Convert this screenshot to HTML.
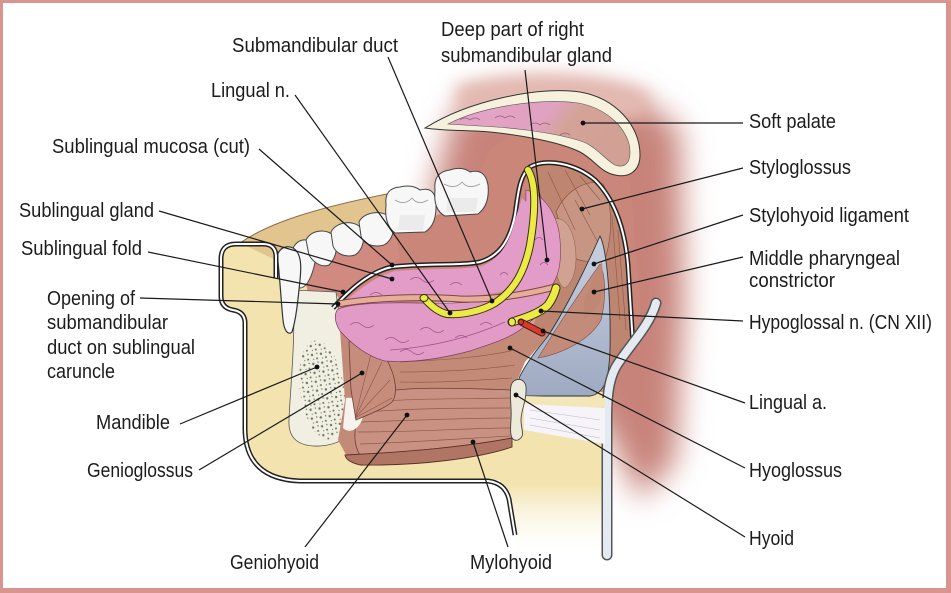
<!DOCTYPE html>
<html><head><meta charset="utf-8">
<style>
html,body{margin:0;padding:0;background:#fff;}
svg{display:block;}
text{font-family:"Liberation Sans",Arial,sans-serif;font-size:20px;fill:#1c1c1c;}
</style></head><body>
<svg width="951" height="593" viewBox="0 0 951 593" xmlns="http://www.w3.org/2000/svg">
<defs>
<filter id="b14" x="-40%" y="-40%" width="180%" height="180%"><feGaussianBlur stdDeviation="15"/></filter>
<filter id="b8" x="-40%" y="-40%" width="180%" height="180%"><feGaussianBlur stdDeviation="8"/></filter>
<pattern id="spk" width="9" height="9" patternUnits="userSpaceOnUse">
<circle cx="2" cy="3" r="1.2" fill="#56604a"/><circle cx="6.5" cy="7" r="1" fill="#56604a"/>
<circle cx="7" cy="2" r="0.7" fill="#56604a"/><circle cx="3" cy="7.5" r="0.6" fill="#56604a"/>
</pattern>
<linearGradient id="palg" x1="0" y1="0" x2="1" y2="0.3">
<stop offset="0" stop-color="#e4a4c8"/><stop offset="0.55" stop-color="#e0a2c0"/><stop offset="0.7" stop-color="#d4a398"/><stop offset="1" stop-color="#d2a095"/>
</linearGradient>
<linearGradient id="yfade" x1="0" y1="0" x2="0" y2="1">
<stop offset="0" stop-color="#f3e3ae"/><stop offset="0.55" stop-color="#f3e3ae"/><stop offset="1" stop-color="#fff" stop-opacity="0"/>
</linearGradient>
<linearGradient id="blueg" x1="0" y1="0" x2="0" y2="1">
<stop offset="0" stop-color="#c9d1e0"/><stop offset="1" stop-color="#9eaac2"/>
</linearGradient>
</defs>

<rect x="0" y="0" width="951" height="593" fill="#fff"/>

<!-- soft red background -->
<path d="M455,112 C485,88 570,78 640,98 L680,130 L684,300 L676,460 L640,500 L612,440 L540,340 L440,265 L430,200 Z" fill="#c7837a" filter="url(#b14)"/>
<path d="M455,85 C520,70 600,75 650,95 L640,120 L460,120 Z" fill="#e3b9b1" filter="url(#b8)"/>
<!-- crisp oral flesh -->
<path d="M318,262 L395,232 L440,214 L470,195 L490,150 L510,135 L600,140 L630,180 L640,300 L640,350 L600,350 L520,300 L338,305 Z" fill="#c98679"/>

<!-- yellow floor right part -->
<path d="M500,392 L608,392 L608,560 L516,560 L510,500 L500,482 Z" fill="url(#yfade)"/>

<!-- mandible fill -->
<path d="M262,240 Q221,240 221,262 L221,296 Q221,308 233,309 Q246,311 246,322 L246,430 Q247,478 300,480 L488,480 L540,480 L540,400 L420,330 L340,300 L300,240 Z" fill="#f3e3ae"/>
<!-- tan ridge -->
<path d="M240,243 C270,222 320,207 392,193 L402,214 L330,238 L280,262 Z" fill="#e2c48e"/>
<path d="M240,243 C270,222 320,207 392,193" fill="none" stroke="#8a6d45" stroke-width="1"/>
<!-- gum -->
<path d="M300,262 L340,250 L395,232 L400,258 L350,290 L310,300 Z" fill="#d08a80"/>

<!-- teeth -->
<g fill="#f7f7f7" stroke="#454545" stroke-width="1">
<path d="M292,252 C294,240 307,236 313,244 C318,252 315,266 311,276 C307,286 301,291 296,286 Z"/>
<path d="M306,240 C311,230 326,228 334,236 C339,246 336,258 329,265 C321,268 313,262 309,255 Z"/>
<path d="M331,232 C336,222 353,219 361,228 C366,238 363,250 355,255 C346,258 336,254 333,246 Z"/>
<path d="M359,222 C363,212 383,209 391,218 C396,228 393,240 384,245 C373,248 363,244 361,236 Z"/>
<path d="M386,205 Q384,188 400,187 Q412,184 420,190 Q435,186 436,203 Q437,225 425,232 L395,233 Q384,225 386,205 Z"/>
<path d="M435,190 Q433,172 450,170 Q462,166 470,172 Q485,168 488,185 Q490,205 478,214 L445,216 Q433,210 435,190 Z"/>
</g>
<g fill="none" stroke="#9a9a9a" stroke-width="0.8">
<path d="M395,200 Q405,206 412,198 Q418,206 428,200"/>
<path d="M444,184 Q455,190 462,182 Q468,190 480,184"/>
</g>
<g fill="#e6e6e6" opacity="0.7"><path d="M400,215 L425,215 L423,230 L398,230 Z"/><path d="M448,198 L478,198 L476,212 L446,212 Z"/></g>

<!-- bone of mandible (cross-section) -->
<path d="M293,290 L336,292 C340,330 352,370 358,405 C362,430 345,444 320,446 C298,447 288,438 289,420 C290,390 296,340 293,290 Z" fill="#f1efe2" stroke="#555" stroke-width="0.8"/>
<ellipse cx="322" cy="390" rx="22" ry="50" transform="rotate(-8 322 390)" fill="url(#spk)" opacity="0.85"/>
<!-- incisor front -->
<path d="M278,262 C275,250 285,244 293,248 C300,252 302,262 300,280 C298,300 296,320 292,332 C288,336 284,330 283,320 C281,300 280,280 278,262 Z" fill="#f7f7f7" stroke="#333" stroke-width="1.2"/>

<!-- mandible outline double -->
<path d="M276,278 L276,257 Q276,244 263,244 L236,244 Q221,244 221,259 L221,296 Q221,308 233,310 Q245,312 245,323 L245,430 Q246,479 300,481 L488,481 Q505,483 509,499 L515,535" fill="none" stroke="#222" stroke-width="5"/>
<path d="M276,278 L276,257 Q276,244 263,244 L236,244 Q221,244 221,259 L221,296 Q221,308 233,310 Q245,312 245,323 L245,430 Q246,479 300,481 L488,481 Q505,483 509,499 L515,535" fill="none" stroke="#fff" stroke-width="2"/>

<!-- soft palate -->
<path d="M425,128 C470,100 540,86 580,92 C615,98 640,125 640,155 C640,172 628,178 615,175 C600,172 595,160 580,152 C560,142 520,135 490,132 C465,130 445,131 425,128 Z" fill="#f6f1dc" stroke="#333" stroke-width="1"/>
<path d="M448,124 C482,106 542,98 578,103 C607,108 630,130 630,152 C630,165 623,168 615,165 C606,160 599,150 586,143 C566,135 526,129 496,127 Z" fill="url(#palg)" stroke="#555" stroke-width="0.6"/>
<g fill="none" stroke="#9c5a80" stroke-width="0.7"><path d="M460,120 q5,-4 10,0 q5,-4 10,0"/><path d="M495,118 q5,-4 10,0 q5,-4 10,0"/><path d="M530,125 q5,-4 10,0 q5,-4 10,0"/><path d="M560,135 q5,-4 10,0"/></g>

<!-- right muscles region -->
<path d="M524,172 C540,159 575,162 595,180 C615,200 625,230 628,265 L632,345 L610,365 L560,345 L530,335 L545,292 L556,240 Z" fill="#be8571"/>
<path d="M556,212 C566,190 588,178 603,184 C612,200 613,232 606,256 C595,263 580,263 572,256 Z" fill="#c99583" stroke="#7a4a3c" stroke-width="0.6"/>
<path d="M552,220 C562,215 572,225 575,245 C578,265 574,282 565,288 C556,285 552,260 552,220 Z" fill="#cfa292" stroke="#8a5a4a" stroke-width="0.5"/>
<g stroke="#8e5646" stroke-width="0.6" fill="none">
<path d="M535,180 L560,250"/><path d="M548,172 L575,230"/><path d="M565,170 L590,215"/><path d="M580,176 L600,200"/><path d="M575,200 L602,250"/><path d="M612,215 L620,320"/><path d="M618,230 L626,330"/>
</g>

<!-- blue region -->
<path d="M600,236 C607,250 611,300 610,350 C609,380 604,394 590,396 L528,396 C518,396 516,386 520,376 C528,360 540,346 548,336 C565,310 585,270 600,236 Z" fill="url(#blueg)" stroke="#333" stroke-width="0.9"/>
<path d="M538,358 C555,330 580,292 600,264 C606,276 606,300 601,320 C590,340 562,354 538,358 Z" fill="#c28b7a" stroke="#7a4a3c" stroke-width="0.6"/>
<path d="M584,300 C590,285 596,272 602,262 L604,290 C600,305 592,315 584,318 Z" fill="#c08872"/>

<!-- mucosa cut line -->
<path d="M333,308 C348,292 368,272 392,267 C425,263 460,266 480,262 C500,256 510,240 515,215 C518,195 519,176 530,167 C545,158 575,163 595,180 C615,200 625,230 628,265 L633,345" fill="none" stroke="#222" stroke-width="5"/>
<path d="M333,308 C348,292 368,272 392,267 C425,263 460,266 480,262 C500,256 510,240 515,215 C518,195 519,176 530,167 C545,158 575,163 595,180 C615,200 625,230 628,265 L633,345" fill="none" stroke="#fff" stroke-width="2"/>

<!-- pharynx tube -->
<path d="M656,303 C650,325 630,345 617,365 C609,378 607,395 607,420 L607,555" fill="none" stroke="#555" stroke-width="11" stroke-linecap="round"/>
<path d="M656,303 C650,325 630,345 617,365 C609,378 607,395 607,420 L607,555" fill="none" stroke="#e4eaf2" stroke-width="8" stroke-linecap="round"/>

<!-- lower muscles base -->
<path d="M340,330 C380,345 440,345 500,335 L530,324 L546,338 L525,362 L515,386 L512,440 C470,450 400,460 350,462 L338,440 L345,400 Z" fill="#c48a78"/>
<g stroke="#8a5444" stroke-width="0.6" fill="none">
<path d="M400,362 C440,360 480,358 515,350"/><path d="M400,372 C440,372 480,370 515,365"/><path d="M400,382 C440,383 480,380 512,378"/>
</g>

<!-- white ligament & cream band -->
<path d="M524,396 L605,398 L605,408 L524,404 Z" fill="#f3e6b8"/>
<path d="M524,404 L605,408 L605,444 L524,430 Z" fill="#f6f4f8"/>
<g stroke="#bdb7c8" stroke-width="0.6"><path d="M530,410 L600,420"/><path d="M530,418 L600,430"/><path d="M530,425 L600,438"/></g>

<!-- geniohyoid -->
<path d="M372,394 C400,386 460,388 512,390 L512,438 C470,446 410,452 360,455 C350,440 355,410 372,394 Z" fill="#c99182" stroke="#6b3f33" stroke-width="0.8"/>
<g stroke="#8c5a4b" stroke-width="0.7" fill="none">
<path d="M370,402 C420,398 470,399 510,398"/><path d="M364,412 C420,408 470,408 510,408"/><path d="M360,422 C420,420 470,418 510,418"/><path d="M358,432 C420,432 470,428 510,428"/><path d="M360,444 C420,442 470,438 510,436"/>
</g>
<!-- mylohyoid band -->
<path d="M345,455 C410,452 470,446 512,438 L512,447 C480,458 420,466 360,465 C352,463 346,460 345,455 Z" fill="#b07565" stroke="#5a3025" stroke-width="0.9"/>
<!-- tendon -->
<path d="M346,398 C358,396 366,408 362,420 C358,430 349,434 343,428 Z" fill="#f6f2ee"/>
<!-- genioglossus -->
<path d="M349,342 C362,336 378,345 388,362 C396,378 398,394 392,402 C382,410 367,415 356,420 L351,390 Z" fill="#c68d7c" stroke="#6b3f33" stroke-width="0.8"/>
<g stroke="#8a5444" stroke-width="0.6" fill="none"><path d="M355,418 L372,350"/><path d="M355,418 L382,362"/><path d="M355,418 L390,380"/><path d="M355,418 L392,398"/></g>

<!-- hyoid -->
<path d="M511,386 C513,377 525,377 526,387 C527,400 521,410 521,420 C521,430 526,436 518,440 C510,442 510,432 511,420 C512,405 509,396 511,386 Z" fill="#eeeadb" stroke="#444" stroke-width="0.9"/>

<!-- deep submandibular gland -->
<path d="M526,190 C545,195 558,215 560,240 C562,265 558,280 548,290 L508,296 C518,270 526,240 526,190 Z" fill="#e39cc8" stroke="#7a3d63" stroke-width="0.6"/>
<!-- upper sublingual gland -->
<path d="M340,306 C355,292 375,276 395,271 C430,268 465,270 482,266 C500,259 510,242 515,220 L522,198 L530,205 C526,240 520,270 510,290 C480,298 420,298 340,308 Z" fill="#e39cc8"/>
<!-- lower pink lobe -->
<path d="M337,310 C345,304 380,302 420,303 C470,304 520,300 552,290 C546,305 535,320 520,330 C505,340 490,344 470,351 C440,359 410,363 385,361 C365,356 350,342 340,331 C335,323 334,316 337,310 Z" fill="#e29ac7" stroke="#7a3d63" stroke-width="0.7"/>
<g fill="none" stroke="#a2538a" stroke-width="0.8">
<path d="M350,325 q6,-5 12,0 q6,5 12,0"/><path d="M385,340 q6,-5 12,0 q6,5 12,0"/><path d="M420,330 q6,-5 12,0 q6,5 12,0"/><path d="M455,338 q6,-5 12,0"/><path d="M480,325 q6,-5 12,0"/><path d="M400,352 q6,-5 12,0 q6,5 12,0"/><path d="M410,280 q6,-5 12,0 q6,5 12,0"/><path d="M450,285 q6,-5 12,0"/><path d="M500,275 q4,-5 8,0"/><path d="M535,240 q4,-5 8,0"/><path d="M540,265 q4,-5 8,0"/><path d="M370,295 q6,-5 12,0"/><path d="M390,350 C420,348 460,342 505,322"/>
</g>

<!-- submandibular duct -->
<path d="M338,304 C370,298 420,296 460,299 C490,300 520,296 555,287" fill="none" stroke="#7a4a3c" stroke-width="7"/>
<path d="M338,304 C370,298 420,296 460,299 C490,300 520,296 555,287" fill="none" stroke="#e8ad9a" stroke-width="5"/>

<!-- lingual nerve -->
<path d="M528,170 C537,185 535,215 530,245 C525,270 515,290 495,303 C480,312 460,315 447,314 C438,312 430,305 424,298" fill="none" stroke="#33310e" stroke-width="8" stroke-linecap="round"/>
<path d="M528,170 C537,185 535,215 530,245 C525,270 515,290 495,303 C480,312 460,315 447,314 C438,312 430,305 424,298" fill="none" stroke="#ecea45" stroke-width="6" stroke-linecap="round"/>
<ellipse cx="424" cy="298" rx="4" ry="3.5" fill="#ecea45" stroke="#33310e" stroke-width="1"/>
<!-- hypoglossal nerve -->
<path d="M512,322 C525,318 540,313 548,305 C553,298 555,292 556,288" fill="none" stroke="#33310e" stroke-width="9" stroke-linecap="round"/>
<path d="M512,322 C525,318 540,313 548,305 C553,298 555,292 556,288" fill="none" stroke="#ecea45" stroke-width="7" stroke-linecap="round"/>
<ellipse cx="512" cy="322" rx="3.5" ry="4" fill="#ecea45" stroke="#33310e" stroke-width="1"/>
<!-- lingual artery -->
<path d="M521,322 L542,333" stroke="#4a1a12" stroke-width="7" stroke-linecap="round"/>
<path d="M521,322 L542,333" stroke="#d93a2e" stroke-width="5" stroke-linecap="round"/>
<circle cx="521" cy="322" r="2.6" fill="#d93a2e" stroke="#4a1a12" stroke-width="1"/>

<!-- leader lines -->
<g stroke="#1a1a1a" stroke-width="1.2" fill="none">
<path d="M388,57 L492,301"/>
<path d="M525,70 L547,260"/>
<path d="M295,95 L450,313"/>
<path d="M259,149 L392,265"/>
<path d="M159,211 L392,279"/>
<path d="M148,252 L343,292"/>
<path d="M140,298 L338,304"/>
<path d="M180,424 L317,367"/>
<path d="M199,470 L362,373"/>
<path d="M305,547 L407,415"/>
<path d="M508,547 L473,442"/>
<path d="M743,123 L583,123"/>
<path d="M743,168 L582,209"/>
<path d="M743,215 L594,264"/>
<path d="M743,257 L594,292"/>
<path d="M743,321 L541,311"/>
<path d="M745,403 L543,331"/>
<path d="M745,468 L510,348"/>
<path d="M745,537 L516,395"/>
</g>
<g fill="#111">
<circle cx="492" cy="301" r="2.4"/><circle cx="547" cy="260" r="2.4"/><circle cx="450" cy="313" r="2.4"/>
<circle cx="392" cy="265" r="2.4"/><circle cx="392" cy="279" r="2.4"/><circle cx="343" cy="292" r="2.4"/>
<circle cx="338" cy="304" r="2.4"/><circle cx="317" cy="367" r="2.4"/><circle cx="362" cy="373" r="2.4"/>
<circle cx="407" cy="415" r="2.4"/><circle cx="473" cy="442" r="2.4"/><circle cx="583" cy="123" r="2.4"/>
<circle cx="582" cy="209" r="2.4"/><circle cx="594" cy="264" r="2.4"/><circle cx="594" cy="292" r="2.4"/>
<circle cx="541" cy="311" r="2.4"/><circle cx="543" cy="331" r="2.4"/><circle cx="510" cy="348" r="2.4"/>
<circle cx="516" cy="395" r="2.4"/>
</g>

<!-- labels -->
<g>
<text x="232" y="52" textLength="166" lengthAdjust="spacingAndGlyphs">Submandibular duct</text>
<text x="441" y="36" textLength="143" lengthAdjust="spacingAndGlyphs">Deep part of right</text>
<text x="441" y="62" textLength="171" lengthAdjust="spacingAndGlyphs">submandibular gland</text>
<text x="211" y="97" textLength="79" lengthAdjust="spacingAndGlyphs">Lingual n.</text>
<text x="52" y="153" textLength="198" lengthAdjust="spacingAndGlyphs">Sublingual mucosa (cut)</text>
<text x="19" y="217" textLength="135" lengthAdjust="spacingAndGlyphs">Sublingual gland</text>
<text x="21" y="255" textLength="121" lengthAdjust="spacingAndGlyphs">Sublingual fold</text>
<text x="47" y="305" textLength="88" lengthAdjust="spacingAndGlyphs">Opening of</text>
<text x="47" y="329" textLength="121" lengthAdjust="spacingAndGlyphs">submandibular</text>
<text x="47" y="354" textLength="148" lengthAdjust="spacingAndGlyphs">duct on sublingual</text>
<text x="47" y="378" textLength="68" lengthAdjust="spacingAndGlyphs">caruncle</text>
<text x="96" y="429" textLength="74" lengthAdjust="spacingAndGlyphs">Mandible</text>
<text x="87" y="477" textLength="106" lengthAdjust="spacingAndGlyphs">Genioglossus</text>
<text x="230" y="569" textLength="89" lengthAdjust="spacingAndGlyphs">Geniohyoid</text>
<text x="470" y="569" textLength="82" lengthAdjust="spacingAndGlyphs">Mylohyoid</text>
<text x="749" y="128" textLength="87" lengthAdjust="spacingAndGlyphs">Soft palate</text>
<text x="749" y="174" textLength="102" lengthAdjust="spacingAndGlyphs">Styloglossus</text>
<text x="749" y="222" textLength="160" lengthAdjust="spacingAndGlyphs">Stylohyoid ligament</text>
<text x="749" y="265" textLength="151" lengthAdjust="spacingAndGlyphs">Middle pharyngeal</text>
<text x="749" y="287" textLength="86" lengthAdjust="spacingAndGlyphs">constrictor</text>
<text x="749" y="329" textLength="183" lengthAdjust="spacingAndGlyphs">Hypoglossal n. (CN XII)</text>
<text x="749" y="409" textLength="78" lengthAdjust="spacingAndGlyphs">Lingual a.</text>
<text x="749" y="477" textLength="93" lengthAdjust="spacingAndGlyphs">Hyoglossus</text>
<text x="749" y="545" textLength="45" lengthAdjust="spacingAndGlyphs">Hyoid</text>
</g>

<!-- border -->
<path d="M0,0 H951 V593 H0 Z M3,3 V588 H946 V3 Z" fill="#d8948e" fill-rule="evenodd"/>
</svg>
</body></html>
